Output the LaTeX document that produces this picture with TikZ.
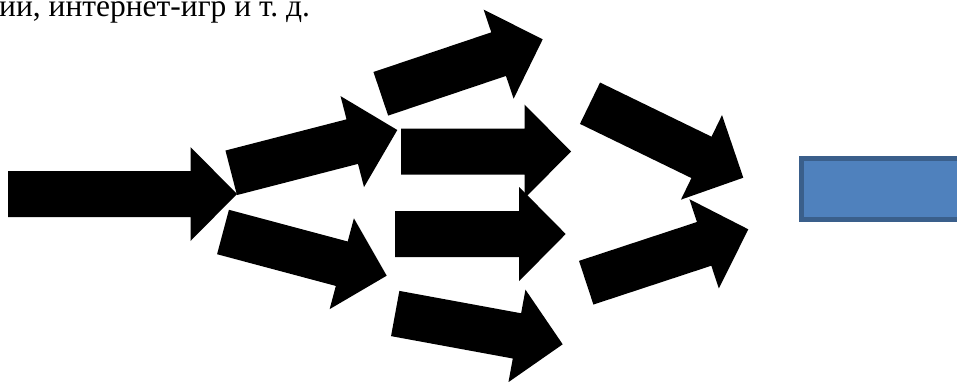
\documentclass[tikz,border=0pt]{standalone}
\usepackage{fontspec}
\setmainfont{Liberation Serif}
\definecolor{boxfill}{HTML}{4F81BD}
\definecolor{boxline}{HTML}{3A5F8B}
\tikzset{
  arrowfill/.style={fill=black},
  bluebox/.style={fill=boxfill,draw=boxline,line width=5pt},
  toptext/.style={anchor=base west,inner sep=0pt,font=\fontsize{31.5}{34}\selectfont}
}
\newcommand\blkarrow[4]{%
  \pgfmathsetmacro\arrang{atan2(#4-#2,#3-#1)}%
  \pgfmathsetmacro\arrlen{veclen(#3-#1,#4-#2)}%
  \begin{scope}[shift={(#1,#2)},rotate=-\arrang]
    \fill[arrowfill] (0pt,-23pt) -- ({\arrlen pt-46.5pt},-23pt) -- ({\arrlen pt-46.5pt},-47pt)
      -- (\arrlen pt,0pt) -- ({\arrlen pt-46.5pt},47pt) -- ({\arrlen pt-46.5pt},23pt) -- (0pt,23pt) -- cycle;
  \end{scope}}
\begin{document}
\begin{tikzpicture}[x=1pt,y=-1pt]
\clip (0,0) rectangle (957,381);
\fill[white] (0,0) rectangle (957,381);
\node[toptext] (txt) at (-1,16) {ии, интернет-игр и т.~д.};
\blkarrow{8}{194}{237}{194}
\blkarrow{231.2}{172.8}{397.3}{130}
\blkarrow{223}{232}{386.7}{275.7}
\blkarrow{380.8}{93.8}{542.7}{39.3}
\blkarrow{401}{151.5}{571}{151.5}
\blkarrow{395}{234}{565.7}{234}
\blkarrow{395.2}{313.5}{562.7}{344.3}
\blkarrow{590}{103.2}{743.3}{177.7}
\blkarrow{586.2}{282.7}{748.3}{229.3}
\path[bluebox] (801,158.7) rectangle (980,219);
\end{tikzpicture}
\end{document}
